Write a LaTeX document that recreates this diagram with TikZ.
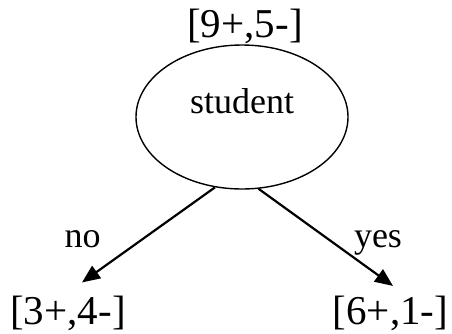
\documentclass[tikz,border=0pt]{standalone}
\usepackage{fontspec}
\setmainfont{Liberation Serif}
\usetikzlibrary{positioning,shapes.geometric,arrows.meta}

\begin{document}
\begin{tikzpicture}[x=1pt,y=-1pt,>={Triangle[length=18pt,width=15pt]},
  cnt/.style={font=\fontsize{41pt}{41pt}\selectfont,inner sep=0pt},
  lbl/.style={font=\fontsize{36pt}{36pt}\selectfont,inner sep=0pt}]
\useasboundingbox (0,0) rectangle (452,333);
\node[draw,ellipse,line width=1.4pt,minimum width=212pt,minimum height=144pt,inner sep=0pt] (student) at (242,117) {};
\node[lbl] (studenttxt) at ([yshift=16pt]student.center) {student};
\node[cnt] (root) at (245,26) {[9+,5-]};
\node[cnt] (no34) at (68,313) {[3+,4-]};
\node[cnt] (yes61) at (390.5,313) {[6+,1-]};
\draw[->,line width=2.2pt] (student.249) -- ([xshift=14pt,yshift=13pt]no34.north);
\draw[->,line width=2.2pt] (student.283) -- ([xshift=2.5pt,yshift=9.5pt]yes61.north);
\node[lbl] (nolbl) at (82.5,239) {no};
\node[lbl] (yeslbl) at (378,243) {yes};
\end{tikzpicture}
\end{document}
